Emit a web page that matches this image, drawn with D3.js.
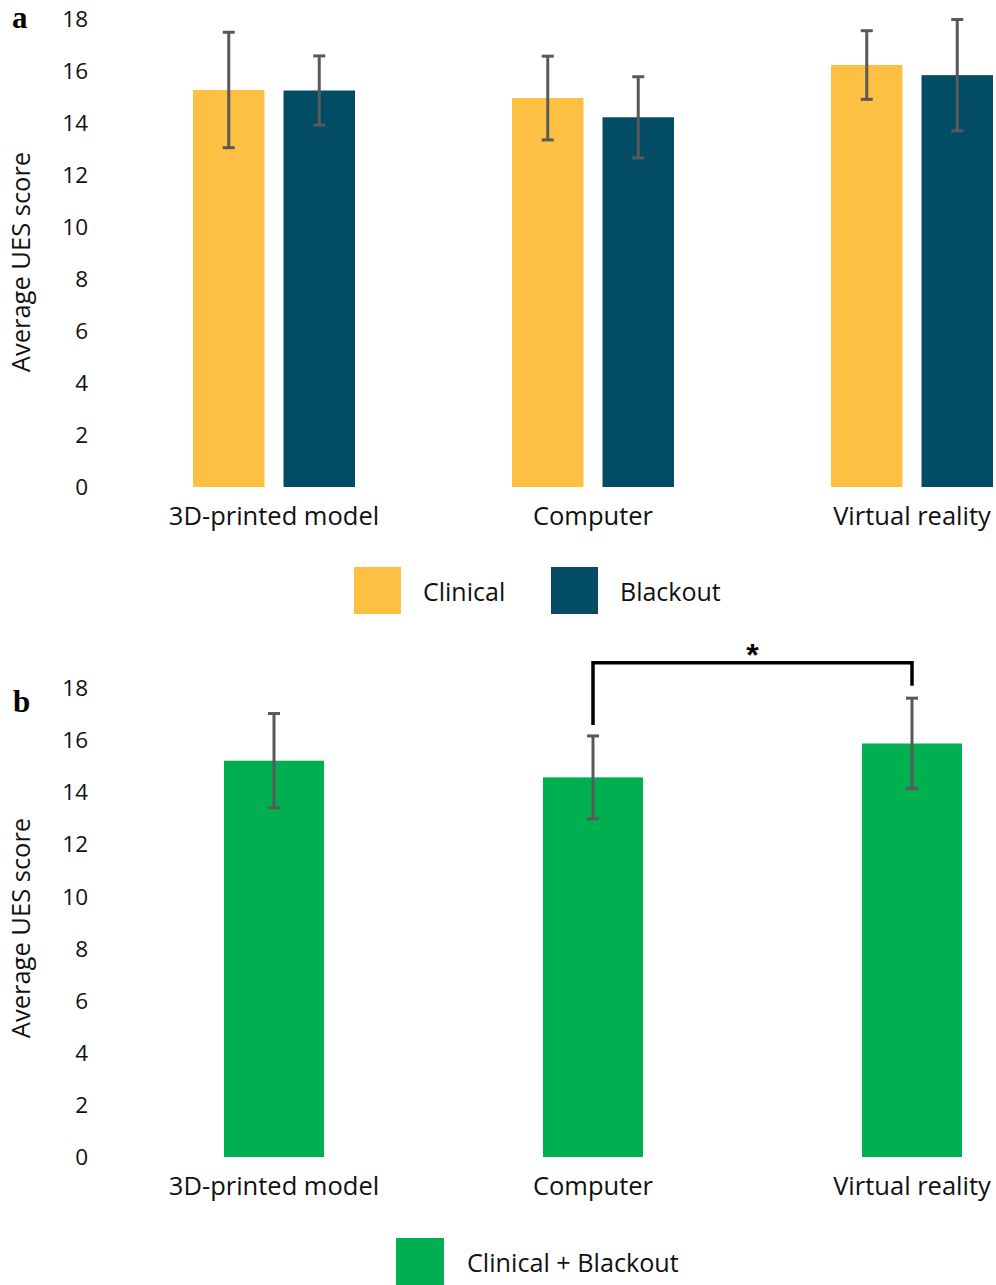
<!DOCTYPE html>
<html>
<head>
<meta charset="utf-8">
<script src="https://cdn.jsdelivr.net/npm/d3@7"></script>
<style>
  html, body { margin: 0; padding: 0; background: #fff; }
  svg { display: block; }
</style>
</head>
<body>
<svg id="chart" width="996" height="1285"></svg>
<script>
// ---------- data ----------
const categories = ["3D-printed model", "Computer", "Virtual reality"];
const seriesA = ["Clinical", "Blackout"];
const clinicalMean = [15.27, 14.96, 16.23];
const clinicalErr  = [2.22, 1.61, 1.32];
const blackoutMean = [15.25, 14.22, 15.84];
const blackoutErr  = [1.33, 1.56, 2.14];
const seriesB = ["Clinical + Blackout"];
const combinedMean = [15.21, 14.57, 15.87];
const combinedErr  = [1.81, 1.59, 1.74];
const yTicks = [0, 2, 4, 6, 8, 10, 12, 14, 16, 18];
const sigPair = ["Computer", "Virtual reality"];
const sigLabel = "*";
const sigLevel = 18.97;

// ---------- styles ----------
const colors = { "Clinical": "#FEC042", "Blackout": "#034C66", "Clinical + Blackout": "#00B050" };
const errColor = "#595959";
const textColor = "#111";
const font = "'Open Sans', 'Noto Sans', sans-serif";

const svg = d3.select("#chart");

const x = d3.scaleBand().domain(categories).range([114.5, 1071.5]).paddingInner(0).paddingOuter(0);

function yAxis(g, y) {
  const ax = d3.axisLeft(y).tickValues(yTicks).tickSize(0).tickPadding(0);
  g.call(ax);
  g.select(".domain").remove();
  g.selectAll("text").attr("font-family", font).attr("font-size", 22.5).attr("fill", textColor).attr("dy", "0.34em");
}
function xAxis(g, pad) {
  const ax = d3.axisBottom(x).tickSize(0).tickPadding(pad);
  g.call(ax);
  g.select(".domain").remove();
  g.selectAll("text").attr("font-family", font).attr("font-size", 25.5).attr("fill", textColor);
}
function yTitle(cx, cy) {
  svg.append("text")
    .attr("transform", `translate(${cx},${cy}) rotate(-90)`)
    .attr("text-anchor", "middle")
    .attr("font-family", font).attr("font-size", 25.5).attr("fill", textColor)
    .text("Average UES score");
}
function errBars(g, data, y) {
  const eg = g.append("g").attr("stroke", errColor).attr("stroke-width", 3);
  eg.selectAll("line.v").data(data).join("line").attr("class", "v")
    .attr("x1", d => d.cx).attr("x2", d => d.cx)
    .attr("y1", d => y(d.v + d.e)).attr("y2", d => y(d.v - d.e));
  eg.selectAll("line.t").data(data).join("line").attr("class", "t")
    .attr("x1", d => d.cx - 6).attr("x2", d => d.cx + 6)
    .attr("y1", d => y(d.v + d.e)).attr("y2", d => y(d.v + d.e));
  eg.selectAll("line.b").data(data).join("line").attr("class", "b")
    .attr("x1", d => d.cx - 6).attr("x2", d => d.cx + 6)
    .attr("y1", d => y(d.v - d.e)).attr("y2", d => y(d.v - d.e));
}

// ---------- panel a ----------
{
  const y = d3.scaleLinear().domain([0, 18]).range([487, 19]);
  const sub = d3.scaleBand().domain(seriesA).range([-81, 81]).paddingInner(0.21).paddingOuter(0);
  const means = { "Clinical": clinicalMean, "Blackout": blackoutMean };
  const errs = { "Clinical": clinicalErr, "Blackout": blackoutErr };
  const data = [];
  categories.forEach((c, i) => seriesA.forEach(s => {
    const x0 = x(c) + x.bandwidth() / 2 + sub(s);
    data.push({ c, s, v: means[s][i], e: errs[s][i], x0, w: sub.bandwidth(), cx: x0 + sub.bandwidth() / 2 });
  }));
  const g = svg.append("g");
  g.selectAll("rect").data(data).join("rect")
    .attr("x", d => d.x0).attr("width", d => d.w)
    .attr("y", d => y(d.v)).attr("height", d => y(0) - y(d.v))
    .attr("fill", d => colors[d.s]);
  errBars(g, data, y);
  yAxis(svg.append("g").attr("transform", "translate(88,0)"), y);
  xAxis(svg.append("g").attr("transform", `translate(0,${y(0)})`), 20);
  yTitle(29.5, 262);
  svg.append("text").attr("x", 12).attr("y", 28)
    .attr("font-family", "'Liberation Serif', 'Times New Roman', serif").attr("font-weight", "bold")
    .attr("font-size", 31).attr("fill", "#000").text("a");
  // legend
  const lx = [354, 551];
  const lg = svg.append("g");
  seriesA.forEach((s, i) => {
    lg.append("rect").attr("x", lx[i]).attr("y", 567).attr("width", 47).attr("height", 47).attr("fill", colors[s]);
    lg.append("text").attr("x", lx[i] + 69).attr("y", 600.5)
      .attr("font-family", font).attr("font-size", 25).attr("fill", textColor).text(s);
  });
}

// ---------- panel b ----------
{
  const y = d3.scaleLinear().domain([0, 18]).range([1157, 688]);
  const bw = 100;
  const data = categories.map((c, i) => {
    const cx = x(c) + x.bandwidth() / 2;
    return { c, v: combinedMean[i], e: combinedErr[i], x0: cx - bw / 2, w: bw, cx };
  });
  const g = svg.append("g");
  g.selectAll("rect").data(data).join("rect")
    .attr("x", d => d.x0).attr("width", d => d.w)
    .attr("y", d => y(d.v)).attr("height", d => y(0) - y(d.v))
    .attr("fill", colors[seriesB[0]]);
  errBars(g, data, y);
  yAxis(svg.append("g").attr("transform", "translate(88,0)"), y);
  xAxis(svg.append("g").attr("transform", `translate(0,${y(0)})`), 19.5);
  yTitle(29.5, 928);
  svg.append("text").attr("x", 13).attr("y", 712)
    .attr("font-family", "'Liberation Serif', 'Times New Roman', serif").attr("font-weight", "bold")
    .attr("font-size", 31).attr("fill", "#000").text("b");
  // significance bracket
  const d1 = data[categories.indexOf(sigPair[0])];
  const d2 = data[categories.indexOf(sigPair[1])];
  const top = y(sigLevel);
  const path = d3.path();
  path.moveTo(d1.cx, y(d1.v + d1.e) - 11);
  path.lineTo(d1.cx, top);
  path.lineTo(d2.cx, top);
  path.lineTo(d2.cx, y(d2.v + d2.e) - 12.5);
  svg.append("path").attr("d", path.toString()).attr("fill", "none")
    .attr("stroke", "#000").attr("stroke-width", 3.5);
  svg.append("text").attr("x", (d1.cx + d2.cx) / 2).attr("y", top + 3)
    .attr("text-anchor", "middle")
    .attr("font-family", "'Liberation Sans', Arial, sans-serif").attr("font-weight", "bold")
    .attr("font-size", 32).attr("fill", "#000").text(sigLabel);
  // legend
  svg.append("rect").attr("x", 396).attr("y", 1238).attr("width", 48).attr("height", 47).attr("fill", colors[seriesB[0]]);
  svg.append("text").attr("x", 467).attr("y", 1272)
    .attr("font-family", font).attr("font-size", 25.2).attr("fill", textColor).text(seriesB[0]);
}
</script>
</body>
</html>
